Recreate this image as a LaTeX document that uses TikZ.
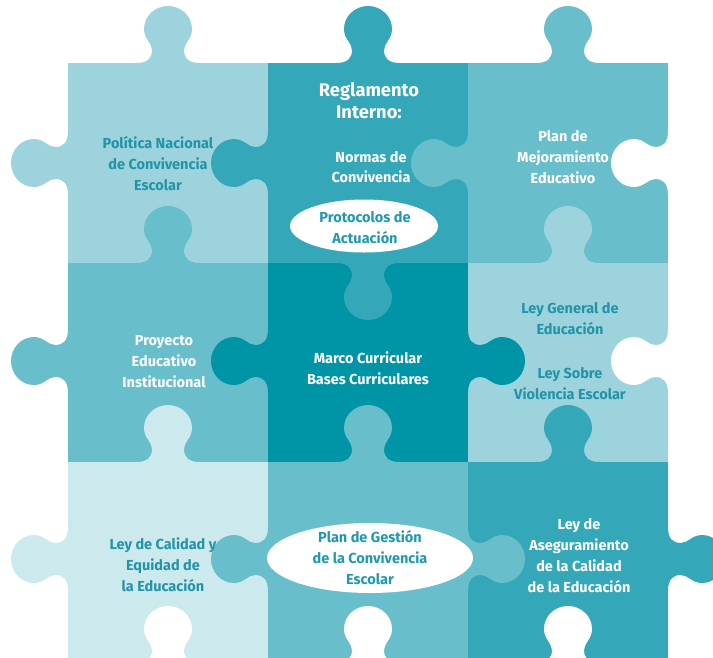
\documentclass[tikz,border=0pt]{standalone}
\usepackage{fontspec}
\setmainfont{Fira Sans}
\definecolor{colA}{HTML}{9DD3DD}
\definecolor{colB}{HTML}{34A8B9}
\definecolor{colC}{HTML}{68BECB}
\definecolor{colE}{HTML}{0094A7}
\definecolor{colG}{HTML}{CCE9EE}
\definecolor{txtdark}{HTML}{2393A8}
\definecolor{txtoval}{HTML}{1F99AF}
\newcommand{\knob}[4]{%
  \fill[#4, shift={(#1,#2)}, rotate=#3]
    (-32,0) .. controls (-20,0) and (-16,5) .. (-16,13)
    .. controls (-16,20) and (-24,24) .. (-24,34)
    .. controls (-24,47) and (-13,57) .. (0,57)
    .. controls (13,57) and (24,47) .. (24,34)
    .. controls (24,24) and (16,20) .. (16,13)
    .. controls (16,5) and (20,0) .. (32,0)
    -- (32,-1.5) -- (-32,-1.5) -- cycle;}
\tikzset{
  lbl/.style={align=center, font=\bfseries\fontsize{14.5}{21}\selectfont, inner sep=0pt},
  lblw/.style={lbl, text=white},
  lbld/.style={lbl, text=txtdark},
  oval/.style={ellipse, fill=white, inner sep=0pt},
}
\usetikzlibrary{shapes.geometric}
\begin{document}
\begin{tikzpicture}[x=1pt,y=-1pt]
\useasboundingbox (0,0) rectangle (713,657);
\clip (0,0) rectangle (713,657);
% squares
\fill[colA] (68,63) rectangle (268,263);
\fill[colB] (268,63) rectangle (468,263);
\fill[colC] (468,63) rectangle (668,263);
\fill[colC] (68,263) rectangle (268,462);
\fill[colE] (268,263) rectangle (468,462);
\fill[colA] (468,263) rectangle (668,462);
\fill[colG] (68,462) rectangle (268,663);
\fill[colC] (268,462) rectangle (468,663);
\fill[colB] (468,462) rectangle (668,663);
% knobs: rotate 0 = down, 180 = up, 90 = right, -90 = left
\knob{168}{63}{180}{colA}
\knob{68}{163}{-90}{colA}
\knob{368}{63}{180}{colB}
\knob{568}{63}{180}{colC}
\knob{268}{163}{-90}{colB}
\knob{468}{163}{-90}{colC}
\knob{668}{163}{-90}{white}
\knob{168}{263}{180}{colC}
\knob{368}{263}{0}{colB}
\knob{568}{263}{180}{colA}
\knob{68}{361}{-90}{colC}
\knob{268}{361}{-90}{colE}
\knob{468}{361}{90}{colE}
\knob{668}{361}{-90}{white}
\knob{168}{462}{180}{colG}
\knob{368}{462}{180}{colC}
\knob{568}{462}{180}{colB}
\knob{68}{559}{-90}{colG}
\knob{268}{559}{-90}{colC}
\knob{468}{559}{90}{colC}
\knob{668}{559}{90}{colB}
\knob{168}{663}{180}{white}
\knob{368}{663}{180}{white}
\knob{568}{663}{180}{white}
% ovals
\node[oval, minimum width=148pt, minimum height=53pt] (ovalB) at (364,226) {};
\node[oval, minimum width=206pt, minimum height=70pt] (ovalH) at (370,558) {};
% texts
\node[lbld] (tA) at (158,164) {Política Nacional\\de Convivencia\\Escolar};
\node[lblw, font=\bfseries\fontsize{18.3}{22}\selectfont] (tB1) at (369,101) {Reglamento\\Interno:};
\node[lblw, font=\bfseries\fontsize{14.5}{19.5}\selectfont] (tB2) at (371,167) {Normas de\\Convivencia};
\node[lbl, text=txtoval] (tB3) at (365,228) {Protocolos de\\Actuación};
\node[lblw] (tC) at (563,157) {Plan de\\Mejoramiento\\Educativo};
\node[lblw] (tD) at (164,362) {Proyecto\\Educativo\\Institucional};
\node[lblw] (tE) at (368,368) {Marco Curricular\\Bases Curriculares};
\node[lbld] (tF1) at (570,319) {Ley General de\\Educación};
\node[lbld] (tF2) at (570,384) {Ley Sobre\\Violencia Escolar};
\node[lbld] (tG) at (163,565) {Ley de Calidad y\\Equidad de\\la Educación};
\node[lbl, text=txtoval] (tH) at (370,558) {Plan de Gestión\\de la Convivencia\\Escolar};
\node[lblw] (tI) at (579,556) {Ley de\\Aseguramiento\\de la Calidad\\de la Educación};
\end{tikzpicture}
\end{document}
